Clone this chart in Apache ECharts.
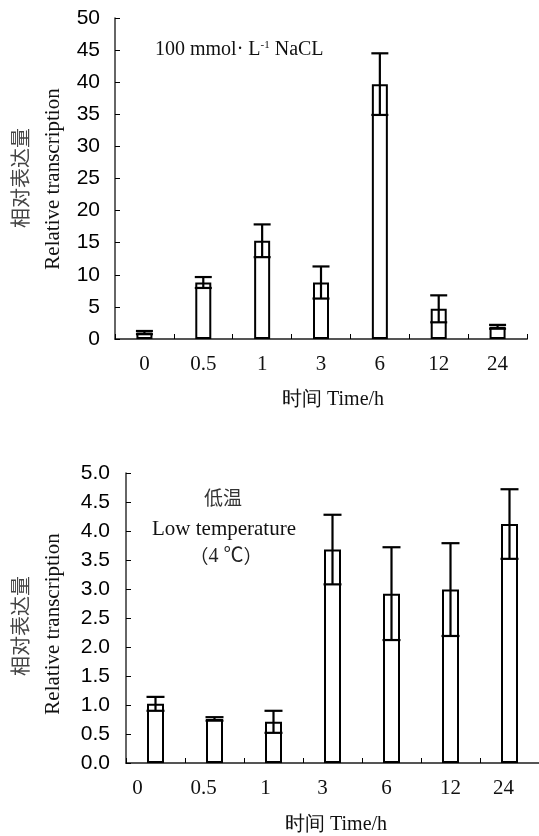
<!DOCTYPE html>
<html>
<head>
<meta charset="utf-8">
<script src="https://cdn.jsdelivr.net/npm/echarts@6/dist/echarts.min.js"></script>
<style>
html,body{margin:0;padding:0;background:#fff;}
#chart{width:539px;height:836px;}
</style>
</head>
<body>
<div id="chart"></div>
<script>
// ---- data ----
const categories = ['0', '0.5', '1', '3', '6', '12', '24'];
const naclMean = [1.0, 8.8, 15.3, 8.8, 39.7, 4.7, 1.9];
const naclErr  = [0.25, 0.85, 2.55, 2.5, 4.8, 2.1, 0.3];
const coldMean = [1.02, 0.76, 0.71, 3.68, 2.92, 2.99, 4.12];
const coldErr  = [0.12, 0.03, 0.19, 0.6, 0.8, 0.8, 0.6];
const naclTicks = {min: 0, max: 50, interval: 5};
const coldTicks = {min: 0, max: 5, interval: 0.5};

// ---- layout/styling ----
const bottomLabelNudge = [-18, -11, -8, -10, -5, 0, -6];

const chart = echarts.init(document.getElementById('chart'), null, {renderer: 'canvas'});

function errRender(capHalf) {
  return function (params, api) {
    const x = api.value(0);
    const lo = api.value(1);
    const hi = api.value(2);
    const pHi = api.coord([x, hi]);
    const pLo = api.coord([x, lo]);
    const style = {stroke: '#000', lineWidth: 2.2, fill: null};
    return {
      type: 'group',
      children: [
        {type: 'line', shape: {x1: pHi[0], y1: pHi[1], x2: pLo[0], y2: pLo[1]}, style: style},
        {type: 'line', shape: {x1: pHi[0] - capHalf, y1: pHi[1], x2: pHi[0] + capHalf, y2: pHi[1]}, style: style},
        {type: 'line', shape: {x1: pLo[0] - capHalf, y1: pLo[1], x2: pLo[0] + capHalf, y2: pLo[1]}, style: style}
      ]
    };
  };
}

const errData = (m, e) => m.map((v, i) => [i, v - e[i], v + e[i]]);

const serif = 'Liberation Serif, Times New Roman, serif';
const sans = 'Liberation Sans, Arial, sans-serif';
const cjk = 'Noto Sans CJK SC, sans-serif';

function xAxisCfg(gridIndex, nudge) {
  const rich = {};
  categories.forEach((c, i) => {
    const n = nudge ? nudge[i] : 0;
    rich['n' + i] = {
      fontFamily: serif, fontSize: 21, color: '#111',
      padding: n < 0 ? [0, -2 * n, 0, 0] : [0, 0, 0, 2 * n]
    };
  });
  return {
    type: 'category',
    gridIndex: gridIndex,
    data: categories,
    axisLine: {show: true, lineStyle: {color: '#555', width: 2}},
    axisTick: {show: true, inside: true, length: 5, interval: 0, lineStyle: {color: '#000', width: 1}},
    axisLabel: {
      interval: 0, margin: 15,
      fontFamily: serif, fontSize: 21, color: '#111',
      formatter: (v, i) => '{n' + i + '|' + v + '}',
      rich: rich
    },
    splitLine: {show: false}
  };
}

function yAxisCfg(gridIndex, t, decimals, margin) {
  return {
    type: 'value',
    gridIndex: gridIndex,
    min: t.min, max: t.max, interval: t.interval,
    axisLine: {show: true, lineStyle: {color: '#333', width: 1.5}},
    axisTick: {show: true, inside: true, length: 5, lineStyle: {color: '#000', width: 1}},
    axisLabel: {
      margin: margin, fontFamily: sans, fontSize: 21, color: '#000',
      formatter: v => v.toFixed(decimals)
    },
    splitLine: {show: false}
  };
}

const barStyle = {color: '#fff', borderColor: '#000', borderWidth: 2};

const option = {
  backgroundColor: '#fff',
  animation: false,
  grid: [
    {left: 115, top: 18, width: 412, height: 321},
    {left: 126, top: 473, width: 415, height: 290}
  ],
  xAxis: [xAxisCfg(0, null), xAxisCfg(1, bottomLabelNudge)],
  yAxis: [yAxisCfg(0, naclTicks, 0, 15), yAxisCfg(1, coldTicks, 1, 16)],
  series: [
    {type: 'bar', xAxisIndex: 0, yAxisIndex: 0, data: naclMean, barWidth: 16, itemStyle: barStyle, silent: true},
    {type: 'custom', xAxisIndex: 0, yAxisIndex: 0, data: errData(naclMean, naclErr), renderItem: errRender(8.5), z: 5, silent: true},
    {type: 'bar', xAxisIndex: 1, yAxisIndex: 1, data: coldMean, barWidth: 17, itemStyle: barStyle, silent: true},
    {type: 'custom', xAxisIndex: 1, yAxisIndex: 1, data: errData(coldMean, coldErr), renderItem: errRender(9), z: 5, silent: true}
  ],
  graphic: [
    // top y-axis names
    {type: 'text', x: 20, y: 178, rotation: Math.PI / 2,
      style: {text: '相对表达量', fontFamily: cjk, fontSize: 20, fill: '#444', align: 'center', verticalAlign: 'middle'}},
    {type: 'text', x: 53, y: 179, rotation: Math.PI / 2,
      style: {text: 'Relative transcription', fontFamily: serif, fontSize: 21, fill: '#111', align: 'center', verticalAlign: 'middle'}},
    // top x-axis name
    {type: 'text', x: 282, y: 400,
      style: {text: '时间 Time/h', fontFamily: serif, fontSize: 20, fill: '#111', align: 'left', verticalAlign: 'middle'}},
    // top annotation
    {type: 'text', x: 155, y: 50,
      style: {
        text: '{a|100 mmol· L}{s|-1}{a| NaCL}',
        align: 'left', verticalAlign: 'middle',
        rich: {
          a: {fontFamily: serif, fontSize: 20, fill: '#111', color: '#111'},
          s: {fontFamily: serif, fontSize: 11, fill: '#111', color: '#111', verticalAlign: 'top', padding: [0, 0, 9, 0]}
        }
      }},
    // bottom y-axis names
    {type: 'text', x: 20, y: 626, rotation: Math.PI / 2,
      style: {text: '相对表达量', fontFamily: cjk, fontSize: 20, fill: '#444', align: 'center', verticalAlign: 'middle'}},
    {type: 'text', x: 53, y: 624, rotation: Math.PI / 2,
      style: {text: 'Relative transcription', fontFamily: serif, fontSize: 21, fill: '#111', align: 'center', verticalAlign: 'middle'}},
    // bottom x-axis name
    {type: 'text', x: 285, y: 825,
      style: {text: '时间 Time/h', fontFamily: serif, fontSize: 20, fill: '#111', align: 'left', verticalAlign: 'middle'}},
    // bottom annotation
    {type: 'text', x: 223, y: 498,
      style: {text: '低温', fontFamily: cjk, fontSize: 19, fill: '#333', align: 'center', verticalAlign: 'middle'}},
    {type: 'text', x: 224, y: 529,
      style: {text: 'Low temperature', fontFamily: serif, fontSize: 21, fill: '#111', align: 'center', verticalAlign: 'middle'}},
    {type: 'text', x: 226, y: 557,
      style: {
        text: '{p|（}{a|4 ℃}{p|）}', align: 'center', verticalAlign: 'middle',
        rich: {
          p: {fontFamily: cjk, fontSize: 19, fill: '#222', color: '#222'},
          a: {fontFamily: serif + ', Noto Sans CJK SC', fontSize: 20, fill: '#222', color: '#222'}
        }
      }}
  ]
};

chart.setOption(option);
</script>
</body>
</html>
